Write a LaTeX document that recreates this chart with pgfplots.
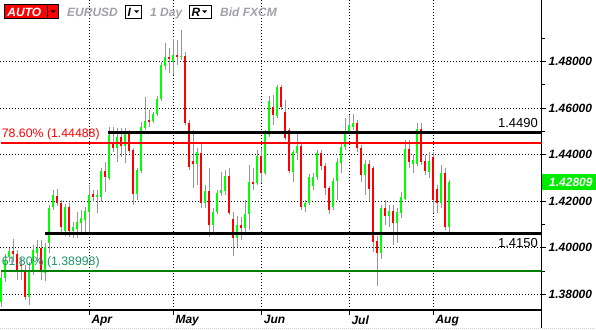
\documentclass[border=0pt]{standalone}
\usepackage{pgfplots}
\usepackage{pgfplotstable}
\pgfplotsset{compat=1.18}
\usepackage{fontspec}
\setmainfont{Liberation Sans}
\definecolor{cgreen}{RGB}{0,255,0}
\definecolor{cred}{RGB}{255,0,0}
\definecolor{wick}{RGB}{150,150,150}
\definecolor{hdrgray}{RGB}{160,160,168}
\definecolor{fibgreen}{RGB}{0,128,0}
\definecolor{fibtext}{RGB}{30,150,100}
\definecolor{pricebox}{RGB}{0,235,0}

\pgfplotstableread{
k o h l c
0 1.3767 1.3896 1.3745 1.3870
1 1.3870 1.3973 1.3853 1.3947
2 1.3960 1.3999 1.3939 1.3986
7 1.3788 1.3939 1.3754 1.3904
8 1.3904 1.4012 1.3883 1.3990
9 1.3977 1.4033 1.3939 1.3999
11 1.3891 1.4020 1.3857 1.4003
12 1.4020 1.4184 1.3977 1.4171
13 1.4175 1.4248 1.4162 1.4227
16 1.4072 1.4188 1.4051 1.4175
18 1.4072 1.4111 1.4042 1.4089
19 1.4081 1.4154 1.4042 1.4111
20 1.4106 1.4162 1.4055 1.4128
21 1.4119 1.4175 1.4068 1.4158
22 1.4154 1.4270 1.4063 1.4227
24 1.4218 1.4248 1.4149 1.4227
25 1.4218 1.4343 1.4197 1.4330
27 1.4300 1.4519 1.4291 1.4485
29 1.4429 1.4515 1.4369 1.4476
31 1.4438 1.4515 1.4364 1.4493
34 1.4231 1.4343 1.4205 1.4334
35 1.4330 1.4541 1.4321 1.4519
36 1.4515 1.4648 1.4506 1.4545
38 1.4545 1.4584 1.4536 1.4575
39 1.4575 1.4653 1.4567 1.4640
40 1.4640 1.4799 1.4631 1.4786
41 1.4782 1.4880 1.4764 1.4820
43 1.4799 1.4898 1.4743 1.4829
45 1.4823 1.4936 1.4807 1.4826
49 1.4360 1.4429 1.4270 1.4412
51 1.4192 1.4270 1.4171 1.4244
53 1.4098 1.4171 1.4068 1.4154
54 1.4154 1.4248 1.4145 1.4235
55 1.4235 1.4326 1.4223 1.4248
56 1.4244 1.4334 1.4227 1.4309
59 1.4042 1.4137 1.4003 1.4098
61 1.4085 1.4205 1.4055 1.4145
62 1.4145 1.4356 1.4076 1.4283
64 1.4278 1.4420 1.4270 1.4395
66 1.4321 1.4506 1.4313 1.4493
67 1.4485 1.4653 1.4476 1.4631
69 1.4567 1.4700 1.4558 1.4691
73 1.4326 1.4420 1.4283 1.4412
74 1.4407 1.4493 1.4377 1.4438
76 1.4175 1.4205 1.4154 1.4192
77 1.4192 1.4317 1.4184 1.4304
78 1.4266 1.4321 1.4248 1.4304
79 1.4304 1.4420 1.4291 1.4407
83 1.4175 1.4300 1.4162 1.4287
84 1.4287 1.4386 1.4205 1.4369
85 1.4364 1.4450 1.4321 1.4433
86 1.4433 1.4558 1.4420 1.4493
87 1.4502 1.4571 1.4493 1.4528
88 1.4519 1.4575 1.4506 1.4536
91 1.4313 1.4377 1.4227 1.4360
95 1.3977 1.4184 1.3952 1.4171
97 1.4137 1.4184 1.4089 1.4158
99 1.4106 1.4171 1.4020 1.4154
100 1.4149 1.4240 1.4128 1.4218
101 1.4210 1.4463 1.4205 1.4425
103 1.4360 1.4399 1.4321 1.4377
104 1.4360 1.4536 1.4352 1.4511
107 1.4326 1.4412 1.4300 1.4373
110 1.4192 1.4356 1.4171 1.4321
112 1.4089 1.4291 1.4055 1.42809
}\greencandles

\pgfplotstableread{
k o h l c
3 1.3986 1.4038 1.3939 1.3973
4 1.3973 1.3990 1.3861 1.3904
5 1.3926 1.3956 1.3861 1.3924
6 1.3904 1.3926 1.3775 1.3788
10 1.3999 1.4033 1.3861 1.3896
14 1.4223 1.4253 1.4180 1.4192
15 1.4192 1.4205 1.4068 1.4089
17 1.4175 1.4192 1.4046 1.4072
23 1.4231 1.4248 1.4197 1.4218
26 1.4330 1.4369 1.4240 1.4304
28 1.4450 1.4519 1.4412 1.4429
30 1.4476 1.4515 1.4390 1.4438
32 1.4493 1.4506 1.4407 1.4416
33 1.4420 1.4429 1.4184 1.4231
37 1.4549 1.4592 1.4519 1.4541
42 1.4820 1.4859 1.4751 1.4812
44 1.4829 1.4893 1.4786 1.4820
46 1.4825 1.4842 1.4528 1.4536
47 1.4536 1.4549 1.4334 1.4347
48 1.4373 1.4506 1.4257 1.4360
50 1.4407 1.4450 1.4171 1.4192
52 1.4244 1.4343 1.4046 1.4098
57 1.4309 1.4343 1.4141 1.4149
58 1.4124 1.4154 1.3965 1.4042
60 1.4098 1.4132 1.4033 1.4085
63 1.4283 1.4343 1.4248 1.4274
65 1.4395 1.4429 1.4278 1.4321
68 1.4605 1.4657 1.4528 1.4571
70 1.4691 1.4700 1.4592 1.4605
71 1.4584 1.4635 1.4463 1.4472
72 1.4506 1.4515 1.4321 1.4330
75 1.4438 1.4450 1.4162 1.4175
80 1.4407 1.4420 1.4334 1.4352
81 1.4352 1.4364 1.4227 1.4257
82 1.4257 1.4266 1.4145 1.4162
89 1.4536 1.4549 1.4412 1.4429
90 1.4429 1.4442 1.4283 1.4313
92 1.4360 1.4377 1.4201 1.4253
93 1.4343 1.4352 1.3982 1.4025
94 1.4029 1.4051 1.3836 1.3977
96 1.4171 1.4205 1.4098 1.4137
98 1.4158 1.4184 1.4012 1.4106
102 1.4425 1.4463 1.4343 1.4369
105 1.4511 1.4536 1.4356 1.4369
106 1.4373 1.4399 1.4313 1.4330
108 1.4390 1.4412 1.4149 1.4205
109 1.4253 1.4270 1.4149 1.4192
111 1.4321 1.4343 1.4076 1.4089
}\redcandles

\begin{document}
\begin{tikzpicture}[x=1bp,y=1bp]
\useasboundingbox (0,0) rectangle (596,329);
\begin{axis}[
  at={(0bp,329bp)}, anchor=north west,
  scale only axis, width=541.5bp, height=310bp,
  xmin=-0.25, xmax=135.125, ymin=1.37323, ymax=1.50653,
  axis x line*=bottom, axis y line*=right,
  axis line style={line width=1.2bp, black},
  tick align=outside, major tick length=4.5bp, minor tick length=3bp,
  tick style={black, line width=1bp},
  xtick={22.075,43.075,65.175,87.075,108.075},
  xticklabels={Apr,May,Jun,Jul,Aug},
  ytick={1.38,1.40,1.42,1.44,1.46,1.48},
  yticklabels={1.38000,1.40000,1.42000,1.44000,1.46000,1.48000},
  minor ytick={1.39,1.41,1.43,1.45,1.47,1.49},
  tick label style={font=\fontsize{12bp}{14bp}\selectfont\bfseries\itshape},
  xticklabel style={anchor=north west, inner sep=1bp, xshift=1bp},
  yticklabel style={anchor=west, inner sep=1bp, xshift=1.5bp},
  grid=major,
  major grid style={black, line width=0.9bp, dash pattern=on 0.9bp off 2.1bp},
]
% wicks
\addplot[draw=none, mark=none, error bars/.cd, y dir=plus, y explicit, error mark=none,
  error bar style={draw=wick, line width=1bp}]
  table[x=k, y=l, y error expr=\thisrow{h}-\thisrow{l}] {\greencandles};
\addplot[draw=none, mark=none, error bars/.cd, y dir=plus, y explicit, error mark=none,
  error bar style={draw=wick, line width=1bp}]
  table[x=k, y=l, y error expr=\thisrow{h}-\thisrow{l}] {\redcandles};
% bodies
\addplot[draw=none, mark=none, error bars/.cd, y dir=plus, y explicit, error mark=none,
  error bar style={draw=cgreen, line width=2.7bp}]
  table[x=k, y=o, y error expr=\thisrow{c}-\thisrow{o}] {\greencandles};
\addplot[draw=none, mark=none, error bars/.cd, y dir=plus, y explicit, error mark=none,
  error bar style={draw=cred, line width=2.7bp}]
  table[x=k, y=c, y error expr=\thisrow{o}-\thisrow{c}] {\redcandles};
% levels
\addplot[black, line width=2.7bp] coordinates {(26.8,1.4496) (135.125,1.4496)};
\addplot[black, line width=2.7bp] coordinates {(11.0,1.4062) (135.125,1.4062)};
\addplot[cred, line width=2.3bp] coordinates {(0,1.4450) (135.125,1.4450)};
\addplot[fibgreen, line width=2.3bp] coordinates {(0,1.3900) (135.125,1.3900)};
\end{axis}
% annotations
\node[anchor=base west, inner sep=0, text=cred, font=\fontsize{12.3bp}{14bp}\selectfont] at (1.7,192) {78.60\% (1.44488)};
\node[anchor=base west, inner sep=0, text=fibtext, font=\fontsize{12.3bp}{14bp}\selectfont] at (1.7,64) {61.80\% (1.38998)};
\node[anchor=base east, inner sep=0, text=black, font=\fontsize{13bp}{15bp}\selectfont] at (538,201.5) {1.4490};
\node[anchor=base east, inner sep=0, text=black, font=\fontsize{13bp}{15bp}\selectfont] at (538,82) {1.4150};
\fill[pricebox] (542,139) rectangle (596,155);
\node[anchor=base west, inner sep=0, text=white, font=\fontsize{12bp}{14bp}\selectfont\bfseries\itshape] at (549,143) {1.42809};
\draw[black, line width=1.2bp] (541.5,19.5) -- (541.5,1);
\draw[gray!35, dash pattern=on 1bp off 1bp, line width=0.8bp] (0,0.6) -- (596,0.6);
% header
\draw[fill=cred, draw=black, line width=0.8bp] (4.7,310.3) rectangle (58.3,324.3);
\draw[black, line width=0.8bp] (47.7,310.3) -- (47.7,324.3);
\fill[black] (50.5,318.5) -- (55.5,318.5) -- (53,316) -- cycle;
\node[anchor=base west, inner sep=0, text=white, font=\fontsize{12bp}{14bp}\selectfont\bfseries\itshape] at (7.3,312.3) {AUTO};
\node[anchor=base west, inner sep=0, text=hdrgray, font=\fontsize{12bp}{14bp}\selectfont\bfseries\itshape] at (67,312.3) {EURUSD};
\draw[fill=white, draw=black, line width=0.8bp] (125,311) rectangle (141.7,323.7);
\node[anchor=base west, inner sep=0, text=black, font=\fontsize{12bp}{14bp}\selectfont\bfseries\itshape] at (127.5,312.3) {I};
\fill[black] (134,318.5) -- (139,318.5) -- (136.5,316) -- cycle;
\node[anchor=base west, inner sep=0, text=hdrgray, font=\fontsize{12bp}{14bp}\selectfont\bfseries\itshape] at (150,312.3) {1 Day};
\draw[fill=white, draw=black, line width=0.8bp] (189.7,311) rectangle (211,323.7);
\node[anchor=base west, inner sep=0, text=black, font=\fontsize{12bp}{14bp}\selectfont\bfseries\itshape] at (191.5,312.3) {R};
\fill[black] (202,318.5) -- (207,318.5) -- (204.5,316) -- cycle;
\node[anchor=base west, inner sep=0, text=hdrgray, font=\fontsize{12bp}{14bp}\selectfont\bfseries\itshape] at (220,312.3) {Bid FXCM};
\end{tikzpicture}
\end{document}
